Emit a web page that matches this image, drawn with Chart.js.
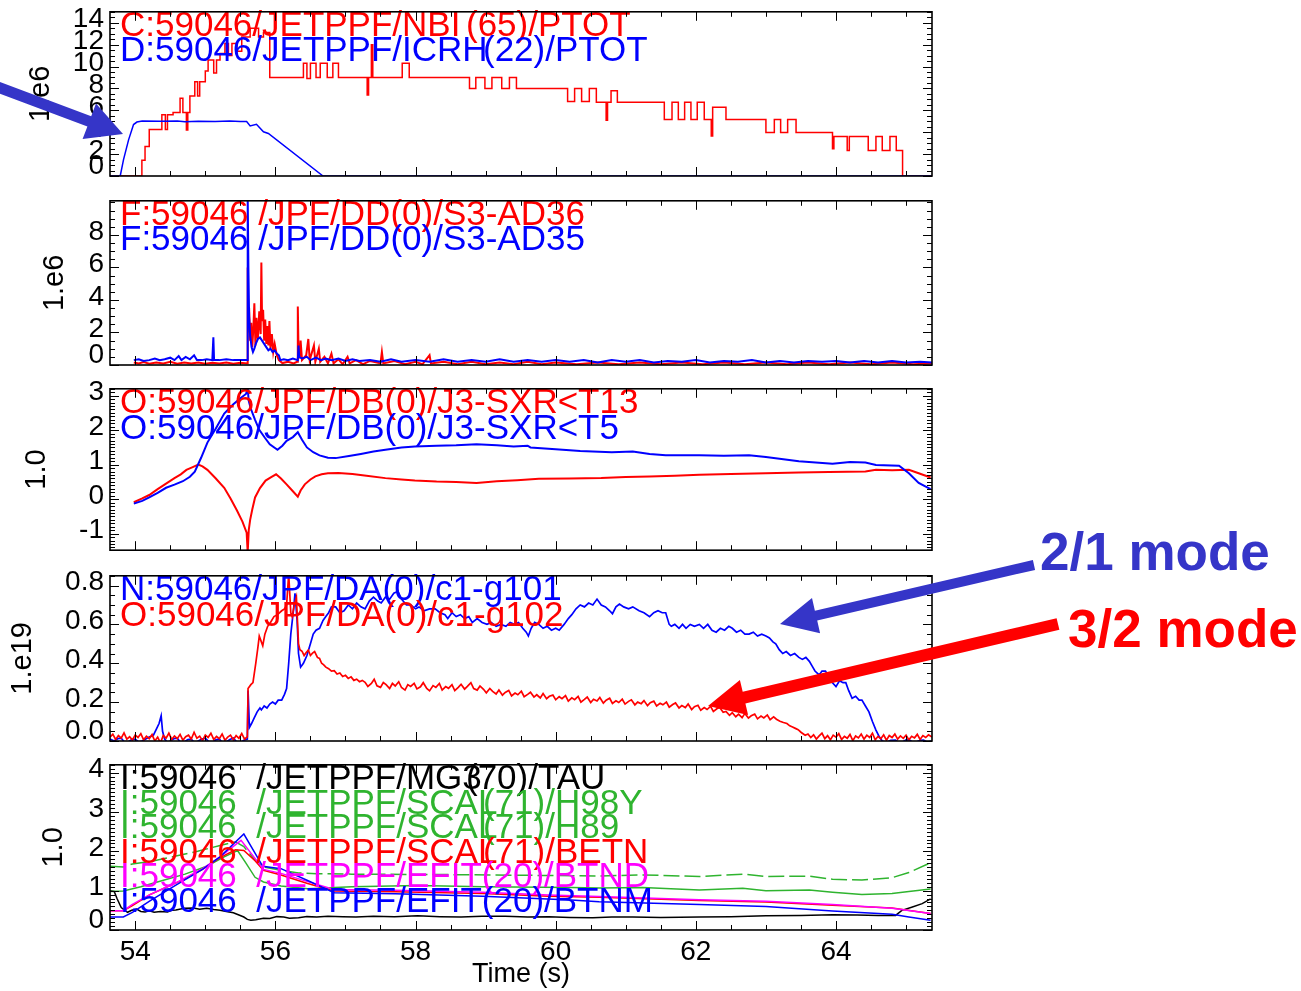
<!DOCTYPE html>
<html>
<head>
<meta charset="utf-8">
<script src="https://cdn.jsdelivr.net/npm/chart.js@4.4.1/dist/chart.umd.min.js"></script>
<style>
  body { margin: 0; background: #fff; width: 1301px; height: 991px; overflow: hidden; position: relative; }
  canvas { position: absolute; left: 0; }
  svg { position: absolute; left: 0; top: 0; pointer-events: none; }
</style>
</head>
<body>
<canvas id="p1" width="940" height="207" style="top:-11px"></canvas>
<canvas id="p2" width="940" height="207" style="top:178px"></canvas>
<canvas id="p3" width="940" height="207" style="top:366px"></canvas>
<canvas id="p4" width="940" height="208" style="top:553px"></canvas>
<canvas id="p5" width="940" height="249" style="top:742px"></canvas>
<svg id="notes" width="1301" height="991"></svg>
<script>
const FONT = '"Liberation Sans", Arial, Helvetica, sans-serif';

// time axis (s)
const xRange = [53.64, 65.37];
const xTicks = [54, 56, 58, 60, 62, 64];
const xLabels = ['54', '56', '58', '60', '62', '64'];

// panel 1: heating power, 1e6 W  (NBI is a step signal: value changes at t)
const p1Ticks = [0, 2, 4, 6, 8, 10, 12, 14];
const p1Labels = ['0', '2', '4', '6', '8', '10', '12', '14'];
const nbiName = 'C:59046/JETPPF/NBI(65)/PTOT';
const icrhName = 'D:59046/JETPPF/ICRH(22)/PTOT';
const nbiPtot = [[53.64,0],[54.095,1.43],[54.14,2.7],[54.2,4.25],[54.38,5.6],[54.43,4.25],[54.46,5.6],[54.54,5.8],
  [54.64,7.1],[54.68,5.8],[54.73,4.2],[54.75,5.8],[54.78,7.3],[54.85,8.6],[54.89,7.3],[54.92,8.6],[55.0,9.6],
  [55.04,10.6],[55.12,9.4],[55.16,10.6],[55.21,11.2],[55.28,12.1],[55.33,11.0],[55.38,12.1],[55.45,11.4],
  [55.52,12.7],[55.64,13.5],[55.76,12.7],[55.83,13.1],[55.92,9.0],[56.4,10.3],[56.45,8.9],[56.5,10.3],
  [56.58,9.0],[56.64,10.3],[56.74,9.0],[56.82,10.3],[56.9,9.0],[57.31,7.4],[57.33,9.0],[57.37,12.0],[57.39,9.0],
  [57.81,10.3],[57.91,9.0],[58.77,8.0],[58.86,9.0],[58.99,8.0],[59.09,9.0],[59.23,8.0],[59.34,9.0],[59.44,8.0],
  [60.17,6.8],[60.27,8.0],[60.37,6.8],[60.48,8.0],[60.58,6.73],[60.72,5.1],[60.74,6.73],[60.79,7.78],[60.88,6.73],
  [61.55,5.17],[61.66,6.73],[61.75,5.17],[61.84,6.73],[61.93,5.17],[62.02,6.73],[62.12,5.17],[62.22,3.65],
  [62.24,6.28],[62.43,5.17],[63.0,3.98],[63.12,5.17],[63.21,3.98],[63.31,5.17],[63.43,3.98],[63.95,2.5],
  [63.97,3.6],[64.16,2.33],[64.19,3.6],[64.46,2.33],[64.57,3.6],[64.66,2.33],[64.77,3.6],[64.86,2.33],
  [64.95,0],[65.37,0]];
const icrhPtot = [[53.64,0],[53.786,0],[53.833,1.5],[53.905,3.3],[53.976,4.7],[54.024,4.93],[54.1,5.02],
  [54.356,5.0],[54.6,5.03],[54.71,4.95],[54.9,5.0],[55.14,4.98],[55.35,5.02],[55.5,4.97],[55.59,4.98],
  [55.64,4.57],[55.73,4.73],[55.83,4.04],[55.9,3.89],[56.68,0],[65.37,0]];

// panel 2: 1e6
const p2Ticks = [0, 2, 4, 6, 8];
const p2Labels = ['0', '2', '4', '6', '8'];
const ad36Name = 'F:59046 /JPF/DD(0)/S3-AD36';
const ad35Name = 'F:59046 /JPF/DD(0)/S3-AD35';
const ad36 = [[53.98,0.15],[54.05,0.1],[54.12,0.18],[54.2,0.08],[54.3,0.15],[54.4,0.1],[54.5,0.2],[54.6,0.08],
  [54.7,0.15],[54.8,0.1],[54.9,0.16],[55.0,0.08],[55.1,0.14],[55.2,0.1],[55.3,0.15],[55.4,0.08],[55.5,0.14],
  [55.6,0.1],[55.605,6.0],[55.615,2.0],[55.625,3.5],[55.64,1.5],[55.655,2.6],[55.67,1.1],[55.685,2.2],[55.7,3.8],
  [55.715,1.2],[55.73,2.9],[55.75,1.6],[55.77,3.3],[55.79,1.9],[55.8,6.3],[55.81,2.7],[55.825,3.4],[55.84,1.5],
  [55.855,2.8],[55.87,1.3],[55.885,2.4],[55.9,1.2],[55.915,2.7],[55.93,1.0],[55.95,1.9],[55.97,0.8],[55.99,1.3],
  [56.02,0.6],[56.05,0.3],[56.1,0.12],[56.18,0.2],[56.26,0.1],[56.31,0.2],[56.32,3.6],[56.33,1.0],[56.345,0.4],
  [56.36,1.5],[56.38,0.3],[56.44,0.6],[56.47,1.6],[56.49,0.3],[56.55,1.2],[56.57,0.2],[56.62,1.0],[56.64,0.2],
  [56.7,0.5],[56.75,0.1],[56.8,0.7],[56.83,0.1],[56.9,0.35],[56.96,0.05],[57.03,0.5],[57.06,0.1],[57.15,0.3],
  [57.25,0.05],[57.35,0.25],[57.5,0.1],[57.52,0.8],[57.54,0.1],[57.7,0.25],[57.85,0.05],[58.0,0.2],[58.1,0.05],
  [58.2,0.6],[58.22,0.1],[58.4,0.2],[58.6,0.05],[58.8,0.2],[59.0,0.05],[59.2,0.15],[59.4,0.05],[59.6,0.2],
  [59.8,0.05],[60.0,0.15],[60.3,0.05],[60.6,0.15],[60.9,0.05],[61.2,0.15],[61.5,0.05],[61.8,0.15],[62.1,0.05],
  [62.4,0.15],[62.7,0.05],[63.0,0.15],[63.3,0.05],[63.6,0.15],[63.9,0.05],[64.2,0.15],[64.5,0.05],[64.8,0.15],
  [65.1,0.05],[65.37,0.1]];
const ad35 = [[53.98,0.3],[54.05,0.35],[54.12,0.25],[54.2,0.3],[54.28,0.4],[54.35,0.3],[54.42,0.35],[54.5,0.45],
  [54.56,0.3],[54.62,0.55],[54.66,0.3],[54.72,0.5],[54.78,0.35],[54.84,0.6],[54.88,0.3],[54.95,0.3],[55.02,0.35],
  [55.1,0.3],[55.115,1.7],[55.125,0.3],[55.2,0.3],[55.3,0.35],[55.4,0.3],[55.5,0.3],[55.6,0.3],[55.605,10.4],
  [55.615,6.0],[55.625,3.0],[55.64,1.8],[55.66,1.1],[55.68,0.8],[55.7,1.0],[55.72,1.3],[55.75,1.6],[55.78,1.7],
  [55.81,1.5],[55.84,1.3],[55.87,1.1],[55.9,0.9],[55.93,1.0],[55.96,0.8],[55.99,0.9],[56.02,0.7],[56.05,0.6],
  [56.07,0.3],[56.12,0.35],[56.18,0.3],[56.25,0.4],[56.32,0.3],[56.33,1.2],[56.34,0.5],[56.38,0.4],[56.45,0.5],
  [56.5,0.3],[56.58,0.45],[56.65,0.3],[56.72,0.4],[56.8,0.3],[56.9,0.4],[57.0,0.25],[57.1,0.35],[57.2,0.25],
  [57.35,0.3],[57.5,0.2],[57.65,0.35],[57.8,0.2],[58.0,0.3],[58.2,0.2],[58.4,0.35],[58.6,0.2],[58.8,0.3],
  [59.0,0.2],[59.2,0.35],[59.4,0.2],[59.6,0.3],[59.8,0.2],[60.0,0.3],[60.2,0.2],[60.4,0.3],[60.6,0.15],[60.8,0.3],
  [61.0,0.2],[61.2,0.3],[61.4,0.15],[61.6,0.25],[61.8,0.2],[62.0,0.3],[62.2,0.15],[62.4,0.25],[62.6,0.2],
  [62.8,0.3],[63.0,0.15],[63.2,0.25],[63.4,0.15],[63.6,0.25],[63.8,0.2],[64.0,0.25],[64.2,0.15],[64.4,0.25],
  [64.6,0.15],[64.8,0.25],[65.0,0.15],[65.2,0.2],[65.37,0.15]];

// panel 3: soft X-ray, 1.0
const p3Ticks = [-1, 0, 1, 2, 3];
const p3Labels = ['-1', '0', '1', '2', '3'];
const t13Name = 'O:59046/JPF/DB(0)/J3-SXR<T13';
const t5Name = 'O:59046/JPF/DB(0)/J3-SXR<T5';
const sxrT13 = [[53.98,-0.09],[54.1,0.02],[54.2,0.12],[54.32,0.29],[54.44,0.45],[54.56,0.61],[54.65,0.72],
  [54.73,0.85],[54.82,0.93],[54.9,1.0],[54.96,0.95],[55.03,0.85],[55.15,0.6],[55.27,0.33],[55.36,0.02],
  [55.45,-0.32],[55.53,-0.65],[55.59,-0.97],[55.605,-1.55],[55.62,-0.9],[55.64,-0.6],[55.67,-0.3],[55.71,0.05],
  [55.78,0.32],[55.86,0.54],[55.94,0.64],[56.01,0.72],[56.08,0.6],[56.16,0.43],[56.24,0.25],[56.32,0.07],
  [56.36,0.25],[56.42,0.43],[56.5,0.57],[56.57,0.66],[56.66,0.72],[56.75,0.75],[56.9,0.76],[57.1,0.73],
  [57.3,0.68],[57.57,0.61],[57.8,0.57],[57.99,0.54],[58.3,0.51],[58.58,0.5],[58.87,0.47],[59.16,0.52],
  [59.45,0.55],[59.76,0.59],[60.2,0.6],[60.65,0.61],[61.0,0.64],[61.34,0.66],[61.7,0.68],[62.05,0.71],
  [62.5,0.73],[63.0,0.75],[63.47,0.77],[63.9,0.79],[64.42,0.8],[64.57,0.85],[64.8,0.84],[65.04,0.85],
  [65.18,0.75],[65.35,0.63]];
const sxrT5 = [[53.98,-0.13],[54.1,-0.05],[54.2,0.05],[54.32,0.18],[54.44,0.33],[54.56,0.42],[54.68,0.52],
  [54.78,0.65],[54.85,0.8],[54.94,1.2],[55.03,1.64],[55.15,2.05],[55.27,2.48],[55.4,2.75],[55.51,2.94],
  [55.58,3.05],[55.605,3.2],[55.62,2.85],[55.65,2.62],[55.71,2.3],[55.77,2.01],[55.85,1.78],[55.92,1.59],
  [56.03,1.43],[56.1,1.55],[56.16,1.69],[56.25,1.8],[56.32,1.94],[56.38,1.72],[56.45,1.5],[56.54,1.36],
  [56.63,1.27],[56.75,1.2],[56.86,1.19],[57.05,1.25],[57.22,1.31],[57.4,1.38],[57.57,1.43],[57.8,1.5],
  [57.99,1.53],[58.3,1.55],[58.58,1.56],[58.87,1.59],[59.16,1.56],[59.4,1.53],[59.6,1.55],[59.64,1.5],
  [60.0,1.45],[60.35,1.4],[60.8,1.36],[61.1,1.38],[61.34,1.31],[61.57,1.27],[62.05,1.27],[62.4,1.26],
  [62.76,1.27],[63.0,1.22],[63.47,1.1],[63.95,1.03],[64.2,1.08],[64.42,1.06],[64.57,0.99],[64.9,0.97],
  [65.04,0.75],[65.18,0.47],[65.35,0.29]];

// panel 4: mode amplitudes, 1.e19
const p4Ticks = [0, 0.2, 0.4, 0.6, 0.8];
const p4Labels = ['0.0', '0.2', '0.4', '0.6', '0.8'];
const g101Name = 'N:59046/JPF/DA(0)/c1-g101';
const g102Name = 'O:59046/JPF/DA(0)/c1-g102';
const g101 = [[53.64,0.01],[53.7,0.0],[53.75,0.012],[53.8,0.015],[53.85,-0.008],[53.9,-0.005],[53.95,0.008],
  [54.0,0.01],[54.05,-0.006],[54.1,0.0],[54.15,0.01],[54.2,0.02],[54.26,0.03],
  [54.3,0.06],[54.34,0.09],[54.37,0.13],[54.39,0.05],[54.42,0.01],[54.46,-0.008],[54.5,0.0],[54.55,0.012],
  [54.6,0.015],[54.65,-0.01],[54.7,-0.005],[54.75,0.008],[54.8,0.01],[54.85,-0.012],[54.9,0.0],[54.95,0.01],
  [55.0,0.015],[55.05,-0.004],[55.1,-0.01],[55.15,0.006],[55.2,0.01],[55.25,-0.012],[55.3,-0.005],[55.35,0.008],
  [55.4,0.015],[55.45,-0.006],[55.5,-0.01],[55.55,0.004],
  [55.6,0.01],[55.61,0.26],[55.63,0.07],[55.66,0.09],[55.7,0.12],[55.74,0.15],[55.78,0.17],[55.8,0.16],
  [55.84,0.18],[55.88,0.17],[55.92,0.19],[55.96,0.2],[56.0,0.19],[56.04,0.21],[56.09,0.21],[56.13,0.24],
  [56.16,0.27],[56.19,0.4],[56.22,0.55],[56.26,0.68],[56.28,0.76],[56.31,0.62],[56.33,0.45],[56.36,0.38],
  [56.4,0.4],[56.45,0.44],[56.5,0.5],[56.54,0.55],[56.58,0.57],[56.63,0.58],[56.68,0.62],[56.72,0.64],
  [56.76,0.66],[56.8,0.69],[56.86,0.69],[56.92,0.66],[56.98,0.67],[57.04,0.7],[57.1,0.68],[57.16,0.71],
  [57.22,0.69],[57.28,0.68],[57.34,0.72],[57.4,0.74],[57.46,0.72],[57.51,0.71],[57.57,0.74],[57.63,0.73],
  [57.69,0.76],[57.75,0.77],[57.8,0.73],[57.87,0.7],[57.93,0.7],[58.0,0.68],[58.05,0.69],[58.12,0.67],
  [58.2,0.68],[58.28,0.68],[58.35,0.66],[58.42,0.65],[58.46,0.63],[58.52,0.66],[58.58,0.64],[58.64,0.65],
  [58.7,0.63],[58.76,0.64],[58.81,0.61],[58.88,0.63],[58.95,0.61],[59.02,0.6],[59.08,0.61],[59.15,0.59],
  [59.22,0.6],[59.29,0.59],[59.35,0.61],[59.41,0.6],[59.47,0.61],[59.53,0.58],[59.58,0.56],[59.61,0.54],
  [59.65,0.58],[59.7,0.61],[59.76,0.6],[59.82,0.58],[59.88,0.59],[59.94,0.57],[60.0,0.58],[60.05,0.57],
  [60.12,0.6],[60.18,0.63],[60.23,0.65],[60.29,0.68],[60.35,0.7],[60.41,0.69],[60.47,0.71],[60.53,0.7],
  [60.59,0.73],[60.65,0.7],[60.71,0.69],[60.77,0.67],[60.81,0.655],[60.86,0.69],[60.91,0.705],[60.97,0.69],
  [61.04,0.68],[61.1,0.69],[61.19,0.67],[61.26,0.66],[61.34,0.64],[61.4,0.66],[61.46,0.67],[61.52,0.66],
  [61.57,0.66],[61.62,0.6],[61.65,0.59],[61.7,0.6],[61.76,0.58],[61.81,0.6],[61.86,0.58],[61.92,0.6],
  [61.98,0.59],[62.05,0.6],[62.11,0.58],[62.17,0.6],[62.23,0.57],[62.29,0.56],[62.35,0.58],[62.41,0.57],
  [62.47,0.59],[62.52,0.58],[62.58,0.56],[62.64,0.57],[62.7,0.55],[62.76,0.55],[62.82,0.56],[62.88,0.54],
  [62.94,0.55],[63.0,0.54],[63.05,0.53],[63.1,0.51],[63.14,0.5],[63.19,0.47],[63.24,0.45],[63.29,0.46],
  [63.35,0.44],[63.41,0.45],[63.47,0.43],[63.52,0.42],[63.57,0.43],[63.62,0.41],[63.66,0.385],[63.7,0.36],
  [63.76,0.34],[63.8,0.36],[63.85,0.36],[63.9,0.33],[63.95,0.3],[64.0,0.28],[64.05,0.31],[64.1,0.3],
  [64.14,0.3],[64.18,0.26],[64.23,0.22],[64.28,0.23],[64.33,0.21],[64.37,0.21],[64.42,0.18],[64.47,0.15],
  [64.52,0.1],[64.57,0.056],[64.62,0.02],[64.66,0.0],[64.72,-0.008],[64.78,0.004],[64.85,0.005],[64.9,-0.01],
  [64.95,-0.005],[65.0,0.006],[65.05,0.005],[65.1,-0.008],[65.15,-0.005],[65.2,0.004],[65.25,0.005],
  [65.3,-0.006],[65.37,0.0]];
const g102 = [[53.64,0.02],[53.68,0.035],[53.72,0.008],[53.76,0.028],[53.8,0.015],[53.84,0.042],[53.88,0.01],
  [53.92,0.022],[53.96,0.005],[54.0,0.03],[54.04,0.018],[54.08,0.038],[54.12,0.006],[54.16,0.025],[54.2,0.012],
  [54.24,0.033],[54.28,0.0],[54.32,0.02],[54.36,-0.01],[54.4,0.028],[54.44,0.015],[54.48,0.04],[54.52,0.008],
  [54.56,0.026],[54.6,0.012],[54.64,0.034],[54.68,0.004],[54.72,0.022],[54.76,0.03],[54.8,0.01],[54.84,0.045],
  [54.88,0.014],[54.92,0.025],[54.96,0.002],[55.0,0.03],[55.04,0.018],[55.08,0.04],[55.12,0.008],[55.16,0.024],
  [55.2,0.012],[55.24,0.036],[55.28,0.004],[55.32,0.02],[55.36,0.03],[55.4,0.006],[55.44,0.028],[55.48,0.014],
  [55.52,0.038],[55.56,0.01],[55.6,0.022],
  [55.61,0.27],[55.65,0.29],[55.68,0.3],[55.72,0.4],[55.75,0.48],[55.77,0.54],[55.8,0.51],[55.82,0.49],
  [55.85,0.55],[55.89,0.59],[55.93,0.61],[55.98,0.64],[56.03,0.65],[56.09,0.67],[56.13,0.68],[56.16,0.7],
  [56.19,0.86],[56.22,0.66],[56.24,0.64],[56.27,0.7],[56.3,0.74],
  [56.33,0.5],[56.35,0.47],[56.38,0.462],[56.41,0.44],[56.44,0.455],[56.47,0.468],[56.5,0.44],[56.53,0.452],
  [56.56,0.46],[56.6,0.43],[56.63,0.425],[56.66,0.4],[56.69,0.392],[56.72,0.38],[56.76,0.372],[56.8,0.36],
  [56.84,0.362],[56.88,0.345],[56.92,0.35],[56.96,0.332],[57.0,0.338],[57.04,0.322],[57.08,0.33],[57.12,0.312],
  [57.16,0.318],[57.2,0.305],[57.24,0.312],
  [57.28,0.302],[57.32,0.281],[57.37,0.296],[57.41,0.318],[57.45,0.284],[57.5,0.276],[57.54,0.301],[57.58,0.29],
  [57.63,0.27],[57.67,0.296],[57.71,0.283],[57.76,0.305],[57.8,0.275],[57.85,0.262],[57.89,0.29],[57.93,0.281],
  [57.98,0.297],[58.02,0.268],[58.07,0.279],[58.11,0.3],[58.16,0.27],[58.2,0.258],[58.25,0.285],[58.29,0.276],
  [58.34,0.296],[58.38,0.262],[58.43,0.28],[58.47,0.271],[58.52,0.29],[58.56,0.259],[58.61,0.276],[58.65,0.292],
  [58.7,0.267],[58.74,0.281],[58.79,0.3],[58.83,0.27],[58.88,0.262],[58.92,0.283],[58.97,0.266],[59.01,0.248],
  [59.06,0.27],[59.1,0.255],[59.15,0.242],[59.19,0.262],[59.24,0.236],[59.28,0.25],[59.33,0.26],[59.37,0.232],
  [59.42,0.247],[59.46,0.238],[59.51,0.256],[59.55,0.228],[59.6,0.24],[59.64,0.251],[59.69,0.226],[59.73,0.238],
  [59.78,0.222],[59.82,0.244],[59.87,0.218],[59.91,0.23],[59.96,0.236],[60.0,0.212],[60.05,0.228],[60.09,0.218],
  [60.14,0.234],[60.18,0.205],[60.23,0.222],[60.27,0.213],[60.32,0.23],[60.36,0.2],[60.41,0.214],[60.45,0.226],
  [60.5,0.198],[60.54,0.215],[60.59,0.206],[60.63,0.224],[60.68,0.195],[60.72,0.21],[60.77,0.22],[60.81,0.193],
  [60.86,0.207],[60.9,0.198],[60.95,0.215],[60.99,0.19],[61.04,0.204],[61.08,0.212],[61.13,0.186],[61.17,0.2],
  [61.22,0.192],[61.26,0.208],[61.31,0.182],[61.35,0.197],[61.4,0.205],[61.44,0.18],[61.49,0.194],[61.53,0.186],
  [61.58,0.2],[61.62,0.174],[61.67,0.188],[61.71,0.196],[61.76,0.17],[61.8,0.182],[61.85,0.172],[61.89,0.19],
  [61.94,0.162],[61.98,0.177],[62.03,0.184],[62.07,0.158],[62.12,0.172],[62.16,0.162],[62.21,0.178],[62.25,0.152],
  [62.3,0.166],[62.34,0.172],[62.39,0.148],[62.43,0.152],[62.48,0.132],[62.52,0.146],[62.57,0.125],[62.61,0.138],
  [62.66,0.12],[62.7,0.142],[62.75,0.118],[62.79,0.13],[62.84,0.138],[62.88,0.114],[62.93,0.128],[62.97,0.119],
  [63.02,0.134],[63.06,0.11],[63.11,0.124],[63.15,0.112],[63.2,0.102],[63.25,0.095],[63.3,0.09],[63.34,0.078],
  [63.38,0.072],[63.42,0.065],[63.46,0.058],[63.5,0.045],
  [63.52,0.04],[63.56,0.03],[63.6,0.036],[63.64,0.018],[63.68,0.032],[63.72,0.01],[63.76,0.026],[63.8,0.04],
  [63.84,0.012],[63.88,0.028],[63.92,0.006],[63.96,0.03],[64.0,0.02],[64.04,0.038],[64.08,0.008],[64.12,0.024],
  [64.16,0.014],[64.2,0.034],[64.24,0.002],[64.28,0.026],[64.32,0.016],[64.36,0.036],[64.4,0.01],[64.44,0.03],
  [64.48,0.018],[64.52,0.04],[64.56,0.006],[64.6,0.024],[64.64,0.012],[64.68,0.032],[64.72,0.004],[64.76,0.028],
  [64.8,0.018],[64.84,0.036],[64.88,0.01],[64.92,0.026],[64.96,0.014],[65.0,0.03],[65.04,0.006],[65.08,0.024],
  [65.12,0.016],[65.16,0.034],[65.2,0.008],[65.24,0.028],[65.28,0.018],[65.32,0.032],[65.37,0.02]];

// panel 5: confinement / beta, 1.0
const p5Ticks = [0, 1, 2, 3, 4];
const p5Labels = ['0', '1', '2', '3', '4'];
const tauName = 'I:59046  /JETPPF/MG3(70)/TAU';
const h98yName = 'I:59046  /JETPPF/SCAL(71)/H98Y';
const h89Name = 'I:59046  /JETPPF/SCAL(71)/H89';
const betnName = 'I:59046  /JETPPF/SCAL(71)/BETN';
const btndName = 'I:59046  /JETPPF/EFIT(20)/BTND';
const btnmName = 'I:59046  /JETPPF/EFIT(20)/BTNM';
const tau = [[53.64,1.0],[53.7,0.98],[53.74,0.8],[53.8,0.57],[53.89,0.45],[53.95,0.5],[54.02,0.53],[54.08,0.47],
  [54.14,0.46],[54.2,0.49],[54.27,0.45],[54.36,0.47],[54.46,0.46],[54.52,0.5],[54.58,0.51],[54.7,0.55],
  [54.83,0.56],[54.92,0.53],[55.02,0.55],[55.12,0.52],[55.21,0.5],[55.3,0.47],[55.4,0.44],[55.48,0.38],
  [55.55,0.33],[55.6,0.27],[55.65,0.25],[55.72,0.26],[55.83,0.3],[55.92,0.29],[56.02,0.34],[56.12,0.33],
  [56.2,0.3],[56.33,0.31],[56.45,0.34],[56.59,0.33],[56.75,0.35],[56.96,0.34],[57.15,0.33],[57.4,0.35],
  [57.7,0.34],[58.03,0.36],[58.35,0.34],[58.65,0.33],[58.95,0.35],[59.28,0.35],[59.6,0.33],[59.9,0.34],
  [60.2,0.32],[60.53,0.31],[60.8,0.33],[61.1,0.33],[61.5,0.32],[62.05,0.33],[62.5,0.34],[63.0,0.36],
  [63.5,0.37],[63.95,0.39],[64.3,0.38],[64.6,0.37],[64.85,0.37],[64.94,0.5],[65.08,0.58],[65.23,0.67],[65.35,0.79]];
const h98y = [[53.64,1.62],[53.83,1.6],[53.96,1.68],[54.27,1.76],[54.58,1.88],[54.89,2.0],[55.21,2.15],
  [55.43,2.24],[55.55,2.12],[55.68,1.84],[55.83,1.6],[56.08,1.52],[56.33,1.45],[56.59,1.43],[57.09,1.42],
  [58.34,1.41],[59.59,1.39],[60.62,1.375],[61.24,1.4],[62.05,1.36],[62.67,1.42],[63.0,1.36],[63.62,1.37],
  [63.95,1.29],[64.37,1.27],[64.8,1.33],[65.04,1.46],[65.35,1.71]];
const h89 = [[53.64,0.98],[53.83,0.99],[54.08,1.1],[54.39,1.26],[54.71,1.42],[55.02,1.62],[55.27,1.86],
  [55.46,2.02],[55.58,1.7],[55.71,1.34],[55.83,1.22],[56.08,1.12],[56.46,1.05],[57.09,1.1],[58.03,1.13],
  [58.96,1.1],[60.22,1.08],[60.62,1.07],[61.24,1.08],[62.05,1.02],[62.67,1.06],[63.0,1.0],[63.62,1.02],
  [63.95,0.96],[64.37,0.9],[64.8,0.93],[65.04,0.98],[65.35,1.04]];
const betn = [[53.64,0.49],[53.83,0.49],[53.96,0.62],[54.21,0.9],[54.46,1.1],[54.71,1.3],[54.96,1.54],
  [55.21,1.84],[55.43,2.04],[55.55,2.02],[55.71,1.76],[55.83,1.52],[56.08,1.4],[56.46,1.18],[56.84,0.99],
  [57.71,0.97],[58.96,0.93],[59.9,0.86],[60.62,0.83],[62.05,0.75],[63.0,0.71],[63.95,0.63],[64.8,0.56],[65.35,0.42]];
const btnd = [[53.64,0.49],[53.83,0.49],[53.96,0.65],[54.21,0.9],[54.58,1.2],[54.96,1.56],[55.21,1.86],
  [55.51,2.28],[55.83,1.54],[56.08,1.44],[56.46,1.23],[56.84,1.03],[57.71,1.01],[58.96,0.96],[59.9,0.89],
  [60.62,0.85],[62.05,0.77],[63.0,0.73],[63.95,0.65],[64.8,0.55],[65.35,0.42]];
const btnm = [[53.64,0.33],[53.83,0.33],[53.96,0.45],[54.21,0.74],[54.58,1.14],[54.96,1.54],[55.21,1.86],
  [55.55,2.44],[55.82,1.62],[56.08,1.56],[56.46,1.26],[56.84,0.95],[57.71,0.92],[58.96,0.86],[60.22,0.76],
  [60.62,0.72],[62.05,0.65],[63.0,0.6],[63.95,0.48],[64.8,0.4],[65.04,0.33],[65.35,0.25]];

const RED = '#ff0000', BLUE = '#0000ff', GREEN = '#2fb42f', MAG = '#ff00ff', BLACK = '#000000';

// inward ticks on all four sides plus the box, IDL style
const frame = {
  id: 'frame',
  afterDraw(chart, args, o) {
    const { ctx, chartArea: a } = chart;
    const x = chart.scales.x, y = chart.scales.y;
    ctx.save();
    ctx.strokeStyle = '#000';
    ctx.lineWidth = 1;
    ctx.beginPath();
    const k0 = Math.ceil(y.min / o.yMinor - 1e-6), k1 = Math.floor(y.max / o.yMinor + 1e-6);
    for (let k = k0; k <= k1; k++) {
      const v = k * o.yMinor;
      const big = o.yMajor.some(m => Math.abs(m - v) < o.yMinor / 10);
      const len = big ? 9 : 5;
      const py = Math.round(y.getPixelForValue(v)) + 0.5;
      ctx.moveTo(a.left, py); ctx.lineTo(a.left + len, py);
      ctx.moveTo(a.right, py); ctx.lineTo(a.right - len, py);
    }
    const j0 = Math.ceil(x.min / 0.5), j1 = Math.floor(x.max / 0.5);
    for (let j = j0; j <= j1; j++) {
      const v = j * 0.5;
      const len = xTicks.includes(v) ? 9 : 5;
      const px = Math.round(x.getPixelForValue(v)) + 0.5;
      ctx.moveTo(px, a.bottom); ctx.lineTo(px, a.bottom - len);
      ctx.moveTo(px, a.top); ctx.lineTo(px, a.top + len);
    }
    ctx.stroke();
    ctx.lineWidth = 1.6;
    ctx.strokeRect(a.left, a.top, a.right - a.left, a.bottom - a.top);
    ctx.restore();
  }
};

// signal names written inside each panel
const nameText = {
  id: 'nameText',
  afterDatasetsDraw(chart, args, o) {
    const { ctx, chartArea: a } = chart;
    ctx.save();
    ctx.font = '35px ' + FONT;
    ctx.textBaseline = 'alphabetic';
    for (const l of o.lines || []) {
      ctx.fillStyle = l.color;
      const cut = l.splitX ? l.text.indexOf('(') : -1;
      if (cut > 0) {
        ctx.fillText(l.text.slice(0, cut), a.left + 10, a.top + l.dy);
        ctx.fillText(l.text.slice(cut), l.splitX, a.top + l.dy);
      } else {
        ctx.fillText(l.text, a.left + 10, a.top + l.dy);
      }
    }
    ctx.restore();
  }
};

function line(label, pts, color, extra) {
  return Object.assign({
    label: label,
    data: pts.map(p => ({ x: p[0], y: p[1] })),
    borderColor: color,
    borderWidth: 1.5,
    pointRadius: 0,
    fill: false,
    tension: 0
  }, extra || {});
}

function panel(id, cfg) {
  const isBottom = v => Math.abs(v - cfg.yMin) < 1e-9;
  const last = cfg.last;
  new Chart(document.getElementById(id), {
    type: 'line',
    data: { datasets: cfg.datasets },
    options: {
      responsive: false,
      animation: false,
      events: [],
      layout: { padding: { left: 0, right: 8, top: 20, bottom: last ? 0 : 20 } },
      plugins: {
        legend: { display: false },
        tooltip: { enabled: false },
        frame: { yMinor: cfg.yMinor, yMajor: cfg.yTicks },
        nameText: { lines: cfg.lines }
      },
      scales: {
        x: {
          type: 'linear',
          min: xRange[0], max: xRange[1],
          display: !!last,
          afterBuildTicks: s => { s.ticks = xTicks.map(v => ({ value: v })); },
          afterFit: s => { if (last) s.height = 61; },
          grid: { display: false, drawTicks: false },
          border: { display: false },
          ticks: {
            autoSkip: false, maxRotation: 0, padding: 5, color: '#000',
            font: { family: FONT, size: 28 },
            callback: (v, i) => xLabels[i]
          },
          title: {
            display: !!last, text: 'Time (s)', color: '#000',
            font: { family: FONT, size: 27 }, padding: { top: 0, bottom: 0 }
          }
        },
        y: {
          type: 'linear',
          min: cfg.yMin, max: cfg.yMax,
          afterBuildTicks: s => { s.ticks = cfg.yTicks.map(v => ({ value: v })); },
          afterFit: s => { s.width = 110; },
          grid: { display: false, drawTicks: false },
          border: { display: false },
          ticks: {
            autoSkip: false, padding: 6, labelOffset: -3, color: '#000',
            font: c => ({ family: FONT, size: 28, lineHeight: (c.tick && isBottom(c.tick.value)) ? 0.45 : 1.2 }),
            callback: (v, i) => isBottom(v) ? [cfg.yLabels[i], ''] : cfg.yLabels[i]
          },
          title: {
            display: true, text: cfg.yTitle, color: '#000',
            font: { family: FONT, size: 29 }, padding: { top: cfg.titlePad, bottom: 0 }
          }
        }
      }
    },
    plugins: [frame, nameText]
  });
}

panel('p1', {
  yMin: 0, yMax: 15, yTicks: p1Ticks, yLabels: p1Labels, yMinor: 0.5, yTitle: '1.e6', titlePad: 24,
  datasets: [
    line(icrhName, icrhPtot, BLUE),
    line(nbiName, nbiPtot, RED, { stepped: 'before' })
  ],
  lines: [
    { text: nbiName, color: RED, dy: 24, splitX: 466 },
    { text: icrhName, color: BLUE, dy: 49, splitX: 483 }
  ]
});

panel('p2', {
  yMin: 0, yMax: 10.1, yTicks: p2Ticks, yLabels: p2Labels, yMinor: 0.5, yTitle: '1.e6', titlePad: 38,
  datasets: [
    line(ad35Name, ad35, BLUE, { borderWidth: 2 }),
    line(ad36Name, ad36, RED, { borderWidth: 2 })
  ],
  lines: [
    { text: ad36Name, color: RED, dy: 24 },
    { text: ad35Name, color: BLUE, dy: 49 }
  ]
});

panel('p3', {
  yMin: -1.48, yMax: 3.2, yTicks: p3Ticks, yLabels: p3Labels, yMinor: 0.1, yTitle: '1.0', titlePad: 20,
  datasets: [
    line(t5Name, sxrT5, BLUE, { borderWidth: 2 }),
    line(t13Name, sxrT13, RED, { borderWidth: 2 })
  ],
  lines: [
    { text: t13Name, color: RED, dy: 24 },
    { text: t5Name, color: BLUE, dy: 50 }
  ]
});

panel('p4', {
  yMin: 0, yMax: 0.85, yTicks: p4Ticks, yLabels: p4Labels, yMinor: 0.05, yTitle: '1.e19', titlePad: 6,
  datasets: [
    line(g102Name, g102, RED, { borderWidth: 1.7 }),
    line(g101Name, g101, BLUE, { borderWidth: 1.7 })
  ],
  lines: [
    { text: g101Name, color: BLUE, dy: 24 },
    { text: g102Name, color: RED, dy: 50 }
  ]
});

panel('p5', {
  yMin: 0, yMax: 4.2, yTicks: p5Ticks, yLabels: p5Labels, yMinor: 0.1, yTitle: '1.0', titlePad: 37, last: true,
  datasets: [
    line(btnmName, btnm, BLUE),
    line(btndName, btnd, MAG),
    line(betnName, betn, RED),
    line(h89Name, h89, GREEN),
    line(h98yName, h98y, GREEN, { borderDash: [16, 5] }),
    line(tauName, tau, BLACK)
  ],
  lines: [
    { text: tauName, color: BLACK, dy: 24, splitX: 466 },
    { text: h98yName, color: GREEN, dy: 49, splitX: 483 },
    { text: h89Name, color: GREEN, dy: 73, splitX: 483 },
    { text: betnName, color: RED, dy: 98, splitX: 483 },
    { text: btndName, color: MAG, dy: 122 },
    { text: btnmName, color: BLUE, dy: 147 }
  ]
});

// annotation arrows and mode labels
const NS = 'http://www.w3.org/2000/svg';
const svg = document.getElementById('notes');
function arrow(x1, y1, x2, y2, shaft, headLen, headHalf, color) {
  const dx = x2 - x1, dy = y2 - y1, L = Math.hypot(dx, dy);
  const ux = dx / L, uy = dy / L, nx = -uy, ny = ux;
  const bx = x2 - headLen * ux, by = y2 - headLen * uy, s = shaft / 2;
  const pts = [
    [x1 + s * nx, y1 + s * ny], [bx + s * nx, by + s * ny], [bx + headHalf * nx, by + headHalf * ny],
    [x2, y2], [bx - headHalf * nx, by - headHalf * ny], [bx - s * nx, by - s * ny], [x1 - s * nx, y1 - s * ny]
  ];
  const p = document.createElementNS(NS, 'polygon');
  p.setAttribute('points', pts.map(q => q[0].toFixed(1) + ',' + q[1].toFixed(1)).join(' '));
  p.setAttribute('fill', color);
  svg.appendChild(p);
}
function note(text, x, y, color) {
  const t = document.createElementNS(NS, 'text');
  t.setAttribute('x', x); t.setAttribute('y', y);
  t.setAttribute('fill', color);
  t.setAttribute('font-family', FONT);
  t.setAttribute('font-weight', 'bold');
  t.setAttribute('font-size', '53');
  t.textContent = text;
  svg.appendChild(t);
}
arrow(-5, 86, 123, 134, 11, 36, 19, '#3535c8');
arrow(1034, 565, 780, 624, 10, 37, 18, '#3535c8');
arrow(1058, 624, 708, 706, 12, 37, 18, '#ff0000');
note('2/1 mode', 1040, 570, '#3535c8');
note('3/2 mode', 1068, 647, '#ff0000');
</script>
</body>
</html>
